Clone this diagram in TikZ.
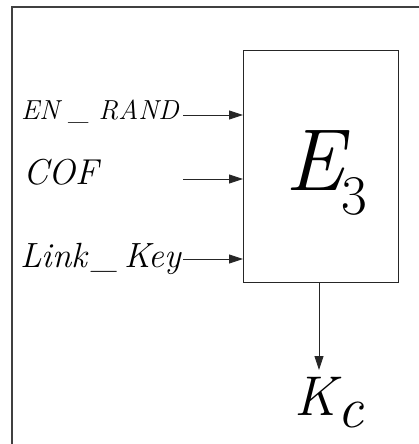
\documentclass[tikz,border=0pt]{standalone}
\usepackage{fontspec}
\usetikzlibrary{arrows.meta}
\begin{document}
\begin{tikzpicture}[x=1pt,y=-1pt,
  conn/.style={draw=black!85,line width=0.9pt,-{Triangle[length=14pt,width=9pt]}},
  lbl/.style={inner sep=0pt,anchor=base west},
  blk/.style={draw=black!85,line width=0.9pt}]
\useasboundingbox (0,0) rectangle (419,444);
\draw[black!75,line width=1.6pt] (12,444) -- (12,7) -- (419,7);
\node[blk,minimum width=155pt,minimum height=232pt,inner sep=0pt,anchor=north west] (e3) at (243,50) {};
\node[lbl,font=\itshape\fontsize{27.5}{27.5}\selectfont] (en) at (21,119) {EN \_ RAND};
\node[lbl,font=\itshape\fontsize{36}{36}\selectfont] (cof) at (23,184) {COF};
\node[lbl,font=\itshape\fontsize{35}{35}\selectfont] (lk) at (20,267) {Link\,\_\,Key};
\node[lbl,font=\itshape\fontsize{88}{88}\selectfont] (E) at (285,190) {E};
\node[lbl,font=\fontsize{56}{56}\selectfont] (three) at (341,214) {3};
\node[lbl,font=\itshape\fontsize{56}{56}\selectfont] (K) at (294,415) {K};
\node[lbl,font=\itshape\fontsize{58}{58}\selectfont] (c) at (337,427) {c};
\coordinate (s1) at (183,115);
\coordinate (s2) at (183,179);
\coordinate (s3) at (183,259);
\draw[conn] (s1) -- (s1 -| e3.west);
\draw[conn] (s2) -- (s2 -| e3.west);
\draw[conn] (s3) -- (s3 -| e3.west);
\coordinate (kt) at (319,370);
\draw[conn] (e3.south -| kt) -- (kt);
\end{tikzpicture}
\end{document}
